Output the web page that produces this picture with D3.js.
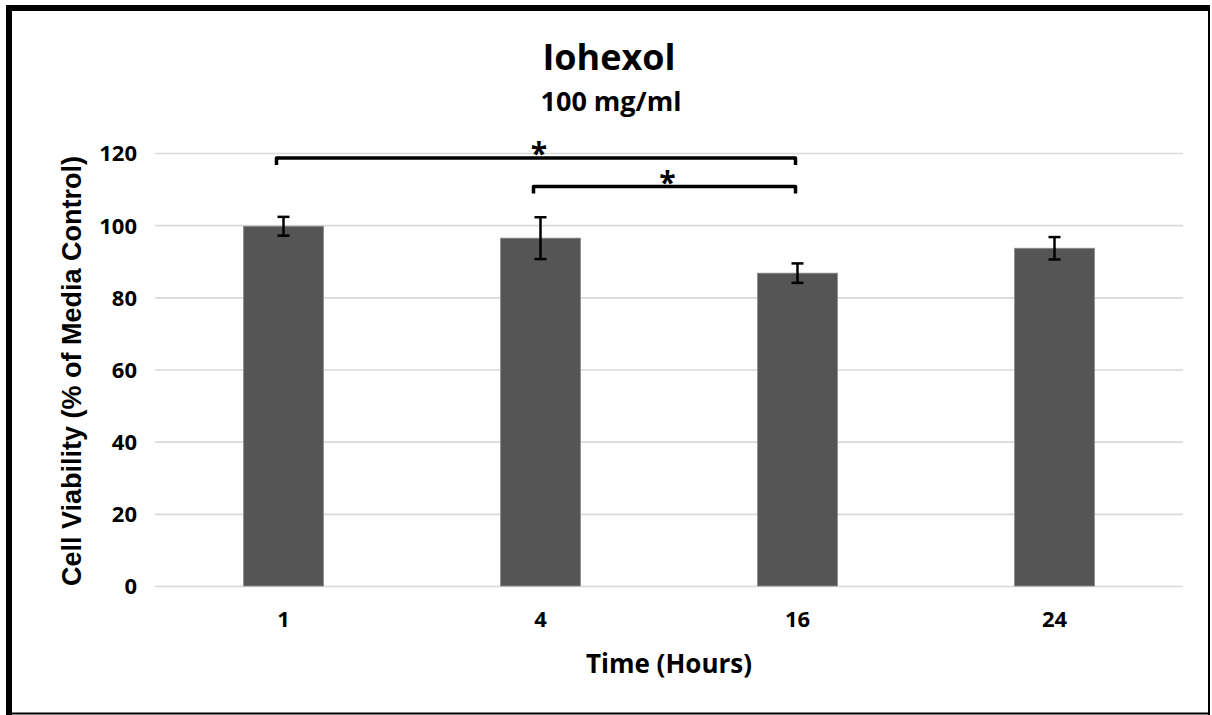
<!DOCTYPE html>
<html>
<head>
<meta charset="utf-8">
<script src="https://cdn.jsdelivr.net/npm/d3@7"></script>
<style>
  html, body { margin: 0; padding: 0; background: #fff; }
  svg { display: block; }
  .lbl { font-family: "Open Sans", "Noto Sans", sans-serif; font-weight: 700; fill: #000; }
</style>
</head>
<body>
<svg id="chart" width="1212" height="715"></svg>
<script>
// Cell viability after Iohexol (100 mg/ml) exposure
const timepoints = ["1", "4", "16", "24"];
const viability = [99.7, 96.4, 86.7, 93.6];
const errors = [2.6, 5.8, 2.7, 3.1];
const yTicks = [0, 20, 40, 60, 80, 100, 120];

// significance brackets: start group, end group, height (in % units)
const bracketFrom = ["1", "4"];
const bracketTo = ["16", "16"];
const bracketLevel = [118.6, 110.7];
const bracketMark = ["*", "*"];

const svg = d3.select("#chart");
const W = 1212, H = 715;
const plot = { left: 155, right: 1183, top: 153, bottom: 586 };

svg.append("rect").attr("width", W).attr("height", H).attr("fill", "#fff");

// outer frame
const frame = svg.append("g").attr("stroke", "#000").attr("fill", "none");
frame.append("line").attr("x1", 9).attr("x2", 9).attr("y1", 5).attr("y2", 715).attr("stroke-width", 6);
frame.append("line").attr("x1", 6).attr("x2", 1210).attr("y1", 8).attr("y2", 8).attr("stroke-width", 6);
frame.append("line").attr("x1", 1209).attr("x2", 1209).attr("y1", 5).attr("y2", 715).attr("stroke-width", 2);
frame.append("line").attr("x1", 6).attr("x2", 1210).attr("y1", 713.5).attr("y2", 713.5).attr("stroke-width", 2);

const x = d3.scaleBand()
  .domain(timepoints)
  .range([plot.left, plot.right])
  .paddingInner(0.689)
  .paddingOuter(0.3445);

const y = d3.scaleLinear().domain([0, 120]).range([plot.bottom, plot.top]);

// y axis with gridlines
const yAxis = svg.append("g")
  .attr("transform", `translate(${plot.left},0)`)
  .call(d3.axisLeft(y).tickValues(yTicks).tickSizeInner(-(plot.right - plot.left)).tickSizeOuter(0).tickPadding(18));
yAxis.select(".domain").remove();
yAxis.selectAll(".tick line").attr("stroke", "#d9d9d9").attr("stroke-width", 1.6);
yAxis.selectAll(".tick text").attr("class", "lbl").style("font-size", "22px").attr("dy", "0.36em");

// x axis labels
const xAxis = svg.append("g")
  .attr("transform", `translate(0,${plot.bottom})`)
  .call(d3.axisBottom(x).tickSize(0).tickPadding(25));
xAxis.select(".domain").remove();
xAxis.selectAll(".tick text").attr("class", "lbl").style("font-size", "22px");

// bars
const data = timepoints.map((t, i) => ({ t, v: viability[i], e: errors[i] }));
svg.append("g").selectAll("rect")
  .data(data)
  .join("rect")
  .attr("x", d => x(d.t))
  .attr("y", d => y(d.v))
  .attr("width", x.bandwidth())
  .attr("height", d => y(0) - y(d.v))
  .attr("fill", "#555555")
  .attr("stroke", "#8a8a8a")
  .attr("stroke-width", 0.8);

// error bars
const eb = svg.append("g").attr("stroke", "#000").attr("stroke-width", 2.5);
data.forEach(d => {
  const cx = x(d.t) + x.bandwidth() / 2;
  eb.append("line").attr("x1", cx).attr("x2", cx).attr("y1", y(d.v + d.e)).attr("y2", y(d.v - d.e));
  eb.append("line").attr("x1", cx - 6).attr("x2", cx + 6).attr("y1", y(d.v + d.e)).attr("y2", y(d.v + d.e));
  eb.append("line").attr("x1", cx - 6).attr("x2", cx + 6).attr("y1", y(d.v - d.e)).attr("y2", y(d.v - d.e));
});

// significance brackets
const br = svg.append("g");
bracketFrom.forEach((from, i) => {
  const x1 = x(from) + x.bandwidth() / 2 - 7;
  const x2 = x(bracketTo[i]) + x.bandwidth() / 2 - 2;
  const yl = y(bracketLevel[i]);
  br.append("path")
    .attr("d", `M${x1},${yl + 7}V${yl}H${x2}V${yl + 7}`)
    .attr("fill", "none")
    .attr("stroke", "#000")
    .attr("stroke-width", 3.5)
    .attr("stroke-linejoin", "round");
  br.append("text")
    .attr("class", "lbl")
    .attr("x", (x1 + x2) / 2 + 3)
    .attr("y", yl + 6)
    .attr("text-anchor", "middle")
    .style("font-size", "30px")
    .text(bracketMark[i]);
});

// titles
svg.append("text").attr("class", "lbl")
  .attr("x", 609).attr("y", 70).attr("text-anchor", "middle")
  .style("font-size", "36px").text("Iohexol");
svg.append("text").attr("class", "lbl")
  .attr("x", 611).attr("y", 111).attr("text-anchor", "middle")
  .style("font-size", "27px").text("100 mg/ml");
svg.append("text").attr("class", "lbl")
  .attr("x", 669).attr("y", 673).attr("text-anchor", "middle")
  .style("font-size", "26px").text("Time (Hours)");
svg.append("text")
  .attr("transform", "translate(81,371) rotate(-90)")
  .attr("text-anchor", "middle")
  .style("font-family", "'Liberation Sans', Arial, sans-serif")
  .style("font-weight", 700)
  .style("font-size", "27px")
  .text("Cell Viability (% of Media Control)");
</script>
</body>
</html>
